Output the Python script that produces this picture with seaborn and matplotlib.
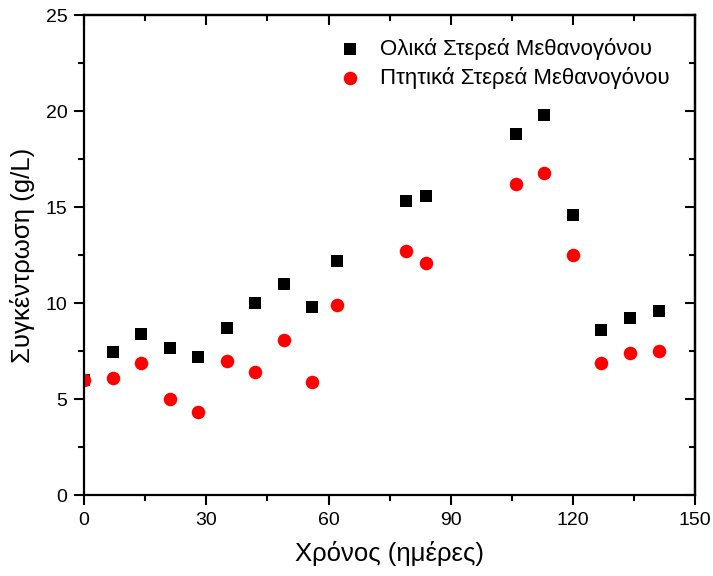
import matplotlib
matplotlib.use("Agg")
import matplotlib.pyplot as plt
import seaborn as sns
import pandas as pd
from matplotlib.ticker import MultipleLocator

days = [0, 7, 14, 21, 28, 35, 42, 49, 56, 62, 79, 84, 106, 113, 120, 127, 134, 141]
total_solids = [6.0, 7.45, 8.4, 7.65, 7.2, 8.7, 10.0, 11.0, 9.8, 12.2, 15.3, 15.6, 18.8, 19.8, 14.6, 8.6, 9.2, 9.6]
volatile_solids = [6.0, 6.1, 6.9, 5.0, 4.3, 7.0, 6.4, 8.1, 5.9, 9.9, 12.7, 12.1, 16.2, 16.8, 12.5, 6.9, 7.4, 7.5]
series_names = ["Ολικά Στερεά Μεθανογόνου", "Πτητικά Στερεά Μεθανογόνου"]
x_label = "Χρόνος (ημέρες)"
y_label = "Συγκέντρωση (g/L)"

sns.set_style("ticks")
plt.rcParams["font.family"] = ["Liberation Sans", "DejaVu Sans"]
plt.rcParams["text.color"] = "black"
plt.rcParams["axes.labelcolor"] = "black"
plt.rcParams["xtick.color"] = "black"
plt.rcParams["ytick.color"] = "black"

fig = plt.figure(figsize=(7.13, 5.76), dpi=100)
ax = fig.add_axes([0.118, 0.1406, 0.857, 0.833])

sns.scatterplot(x=days, y=total_solids, color="black", marker="s", s=68,
                linewidth=0, ax=ax, label=series_names[0])
sns.scatterplot(x=days, y=volatile_solids, color="#ff0000", marker="o", s=95,
                linewidth=0, ax=ax, label=series_names[1])

ax.set_xlim(0, 150)
ax.set_ylim(0, 25)
ax.xaxis.set_major_locator(MultipleLocator(30))
ax.xaxis.set_minor_locator(MultipleLocator(15))
ax.yaxis.set_major_locator(MultipleLocator(5))
ax.yaxis.set_minor_locator(MultipleLocator(2.5))
ax.tick_params(which="major", direction="out", length=7, width=1.5, labelsize=14,
               colors="black", labelcolor="black", pad=5)
ax.tick_params(which="minor", direction="out", length=4, width=1.5, colors="black")
for sp in ax.spines.values():
    sp.set_linewidth(1.6)
    sp.set_color("black")

ax.set_xlabel(x_label, fontsize=18.5, labelpad=9, color="black")
ax.set_ylabel(y_label, fontsize=18.5, labelpad=8, color="black")

top = ax.secondary_xaxis("top")
top.xaxis.set_major_locator(MultipleLocator(30))
top.xaxis.set_minor_locator(MultipleLocator(15))
top.tick_params(which="major", direction="in", length=7, width=1.5, labeltop=False, colors="black")
top.tick_params(which="minor", direction="in", length=4, width=1.5, colors="black")
right = ax.secondary_yaxis("right")
right.yaxis.set_major_locator(MultipleLocator(5))
right.yaxis.set_minor_locator(MultipleLocator(2.5))
right.tick_params(which="major", direction="in", length=7, width=1.5, labelright=False, colors="black")
right.tick_params(which="minor", direction="in", length=4, width=1.5, colors="black")
for s in (top, right):
    for sp in s.spines.values():
        sp.set_linewidth(1.6)
        sp.set_color("black")

leg = ax.legend(loc="upper right", frameon=False, fontsize=16, handletextpad=0.6,
                borderaxespad=0.2, labelspacing=0.32, handlelength=1.5,
                bbox_to_anchor=(0.98, 0.98))
for t in leg.get_texts():
    t.set_color("black")

fig.savefig("out.png", dpi=100)
